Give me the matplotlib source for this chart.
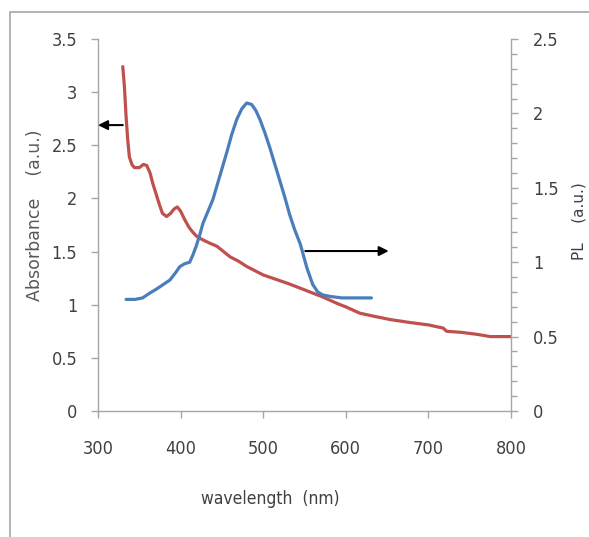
import matplotlib
matplotlib.use("Agg")
import matplotlib.pyplot as plt
from matplotlib import font_manager
from matplotlib.ticker import MultipleLocator
from matplotlib.patches import Rectangle

# absorbance spectrum (left axis)
wl_abs = [330, 332, 334, 336, 338, 341, 344, 350, 355, 359, 363, 366, 370, 374,
          378, 383, 388, 392, 396, 400, 405, 410, 415, 420, 427, 435, 444, 452,
          460, 470, 480, 490, 500, 515, 530, 550, 573, 590, 600, 617, 635, 654,
          680, 700, 712, 718, 722, 740, 760, 775, 790, 800]
absorbance = [3.24, 3.05, 2.77, 2.55, 2.39, 2.32, 2.29, 2.29, 2.32, 2.31, 2.24,
              2.15, 2.05, 1.95, 1.86, 1.83, 1.86, 1.90, 1.92, 1.88, 1.80, 1.73,
              1.68, 1.64, 1.61, 1.58, 1.55, 1.50, 1.45, 1.41, 1.36, 1.32, 1.28,
              1.24, 1.20, 1.14, 1.07, 1.01, 0.98, 0.92, 0.89, 0.86, 0.83, 0.81,
              0.79, 0.78, 0.75, 0.74, 0.72, 0.70, 0.70, 0.70]

# photoluminescence spectrum (right axis)
wl_pl = [334, 345, 354, 362, 371, 379, 387, 394, 399, 405, 411, 415, 419, 423,
         427, 433, 439, 447, 456, 462, 468, 474, 480, 486, 491, 496, 502, 508,
         514, 520, 526, 532, 538, 545, 553, 560, 566, 572, 581, 595, 613, 622, 631]
pl = [0.75, 0.75, 0.76, 0.79, 0.82, 0.85, 0.88, 0.93, 0.97, 0.99, 1.00, 1.05,
      1.11, 1.18, 1.26, 1.34, 1.42, 1.57, 1.74, 1.86, 1.96, 2.03, 2.07, 2.06,
      2.02, 1.96, 1.87, 1.77, 1.66, 1.55, 1.44, 1.32, 1.22, 1.12, 0.96, 0.85,
      0.80, 0.78, 0.77, 0.76, 0.76, 0.76, 0.76]


def narrow_font():
    # upright condensed sans if there is one, else plain DejaVu
    wanted = ["liberationsansnarrow-regular.ttf", "dejavusanscondensed.ttf",
              "robotocondensed-regular.ttf"]
    files = {f.fname.lower().split("/")[-1]: f.fname
             for f in font_manager.fontManager.ttflist}
    for w in wanted:
        if w in files:
            return font_manager.FontProperties(fname=files[w])
    return font_manager.FontProperties(family="DejaVu Sans", stretch="condensed")


nfp = narrow_font()
plt.rcParams["font.family"] = ["DejaVu Sans"]

red = "#c0504d"
blue = "#4a7ebb"
spine_col = "#a6a6a6"
text_col = "#404040"

fig = plt.figure(figsize=(5.89, 5.37), dpi=100)
ax = fig.add_axes([98 / 589, 1 - 411 / 537, 413 / 589, 372 / 537])
ax2 = ax.twinx()

ax.plot(wl_abs, absorbance, color=red, lw=2.3, solid_capstyle="round")
ax2.plot(wl_pl, pl, color=blue, lw=2.3, solid_capstyle="round")

ax.set_xlim(300, 800)
ax.set_ylim(0, 3.5)
ax2.set_ylim(0, 2.5)
ax.set_xticks([300, 400, 500, 600, 700, 800])
ax.set_yticks([0, 0.5, 1, 1.5, 2, 2.5, 3, 3.5])
ax.set_yticklabels(["0", "0.5", "1", "1.5", "2", "2.5", "3", "3.5"])
ax2.set_yticks([0, 0.5, 1, 1.5, 2, 2.5])
ax2.set_yticklabels(["0", "0.5", "1", "1.5", "2", "2.5"])
ax2.yaxis.set_minor_locator(MultipleLocator(0.1))

for a in (ax, ax2):
    for s in a.spines.values():
        s.set_color(spine_col)
        s.set_linewidth(1)
    a.spines["top"].set_visible(False)
ax.spines["right"].set_visible(False)
ax2.spines["left"].set_visible(False)
ax2.spines["bottom"].set_visible(False)

ax.tick_params(axis="both", colors=spine_col, labelcolor=text_col,
               length=5, width=1)
ax.tick_params(axis="x", pad=16)
ax.tick_params(axis="y", pad=10)
ax2.tick_params(axis="y", which="major", colors=spine_col, labelcolor=text_col,
                length=5, width=1, pad=11)
ax2.tick_params(axis="y", which="minor", colors=spine_col, length=4, width=1)

for lab in ax.get_xticklabels() + ax.get_yticklabels() + ax2.get_yticklabels():
    lab.set_fontproperties(nfp)
    lab.set_fontsize(13)

ax.set_xlabel("wavelength  (nm)", color=text_col, fontproperties=nfp)
ax.xaxis.label.set_fontsize(12.5)
ax.xaxis.set_label_coords((270 - 98) / 413, -(490 - 411) / 372)
ax.set_ylabel("Absorbance    (a.u.)", fontsize=12.5, color="#595959")
ax.yaxis.set_label_coords(-(98 - 44) / 413, (411 - 215) / 372)
ax2.set_ylabel("PL    (a.u.)", fontsize=11, color=text_col)
ax2.yaxis.set_label_coords((572 - 98) / 413, (411 - 221) / 372)

# direction arrows
ax.annotate("", xy=(300, 2.69), xytext=(330, 2.69), annotation_clip=False,
            arrowprops=dict(arrowstyle="-|>", color="black", lw=1.5,
                            mutation_scale=14, shrinkA=0, shrinkB=0))
ax.annotate("", xy=(652, 1.505), xytext=(551, 1.505),
            arrowprops=dict(arrowstyle="-|>", color="black", lw=1.5,
                            mutation_scale=14, shrinkA=0, shrinkB=0))

# chart area frame
fig.patches.append(Rectangle((10 / 589, -0.1), 1.2, 1 - 12 / 537 + 0.1,
                             transform=fig.transFigure, fill=False,
                             edgecolor=spine_col, lw=1.2))

fig.savefig("out.png", dpi=100)
